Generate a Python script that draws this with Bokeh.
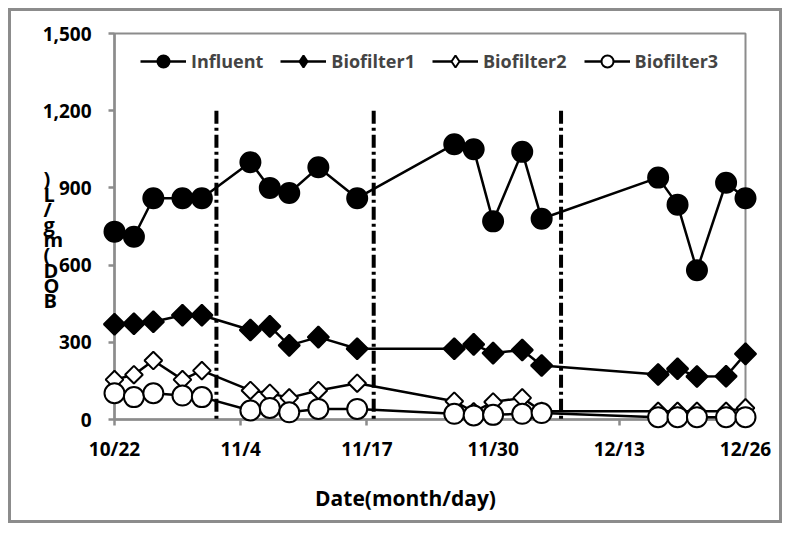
from datetime import date
from bokeh.plotting import figure
from bokeh.models import (Range1d, FixedTicker, NumeralTickFormatter, Legend,
                          LegendItem)
from bokeh.core.properties import value
from bokeh.embed import file_html
from bokeh.resources import INLINE
import math

# ---------------- data ----------------
dates = ["10/22", "10/24", "10/26", "10/29", "10/31", "11/5", "11/7", "11/9",
         "11/12", "11/16", "11/26", "11/28", "11/30", "12/3", "12/5", "12/17",
         "12/19", "12/21", "12/24", "12/26"]
influent = [730, 710, 860, 860, 860, 1000, 900, 880, 980, 860,
            1070, 1050, 770, 1040, 780, 940, 835, 580, 920, 860]
biofilter1 = [370, 372, 380, 405, 405, 348, 362, 288, 320, 275,
              275, 292, 258, 270, 210, 175, 197, 167, 168, 255]
biofilter2 = [155, 174, 229, 155, 190, 113, 102, 84, 113, 141,
              71, 30, 68, 84, 32, 32, 32, 32, 32, 45]
biofilter3 = [102, 87, 102, 93, 87, 35, 45, 28, 41, 41,
              22, 16, 18, 22, 25, 9, 9, 9, 9, 9]
series_names = ["Influent", "Biofilter1", "Biofilter2", "Biofilter3"]
x_tick_labels = ["10/22", "11/4", "11/17", "11/30", "12/13", "12/26"]
y_ticks = [0, 300, 600, 900, 1200, 1500]
phase_breaks = [10.5, 26.7, 46.0]   # days after 10/22
y_title_chars = list("BOD(mg/L)")
x_title = "Date(month/day)"

START = date(2001, 10, 22)


def to_day(s):
    m, d = map(int, s.split("/"))
    return (date(2001, m, d) - START).days


x = [to_day(d) for d in dates]
FONT = "Open Sans"
GRAY = "#8c8c8c"

p = figure(width=774, height=515, x_range=Range1d(0, 65), y_range=Range1d(0, 1500),
           output_backend="svg", toolbar_location=None,
           min_border_left=103, min_border_right=40, min_border_top=22,
           min_border_bottom=107)
p.styles = {"border": "3px solid " + GRAY, "margin": "8px"}
p.xgrid.visible = False
p.ygrid.visible = False
p.outline_line_color = GRAY
p.outline_line_width = 2
p.background_fill_color = "white"
p.border_fill_color = "white"

for ax in (p.xaxis[0], p.yaxis[0]):
    ax.axis_line_color = GRAY
    ax.axis_line_width = 2.5
    ax.major_tick_line_color = GRAY
    ax.major_tick_line_width = 2.5
    ax.major_tick_out = 6
    ax.major_tick_in = 0
    ax.minor_tick_out = 0
    ax.minor_tick_in = 0
    ax.major_label_text_font = FONT
    ax.major_label_text_font_style = "bold"
    ax.major_label_text_font_size = "19px"
    ax.major_label_text_color = "black"

xt = [to_day(t) for t in x_tick_labels]
p.xaxis[0].ticker = FixedTicker(ticks=xt)
p.xaxis[0].major_label_overrides = {v: t for v, t in zip(xt, x_tick_labels)}
p.xaxis[0].major_label_standoff = 10
p.yaxis[0].ticker = FixedTicker(ticks=y_ticks)
p.yaxis[0].formatter = NumeralTickFormatter(format="0,0")
p.yaxis[0].major_label_standoff = 17

styles = [
    (influent, "circle", 20, 0.0, "black", "circle"),
    (biofilter1, "square", 15, math.pi / 4, "black", "diamond"),
    (biofilter2, "square", 12.5, math.pi / 4, "white", "diamond"),
    (biofilter3, "circle", 20, 0.0, "white", "circle"),
]
items = []
for name, (vals, marker, size, ang, fill, leg_marker) in zip(series_names, styles):
    rl = p.line(x, vals, line_color="black", line_width=2.5, level="overlay")
    rs = p.scatter(x, vals, marker=marker, size=size, angle=ang,
                   fill_color=fill, line_color="black", line_width=2,
                   level="overlay")
    if leg_marker == marker:
        items.append(LegendItem(label=name, renderers=[rl, rs]))
    else:
        # legend-only proxy (legend glyphs are never rotated)
        proxy = p.scatter([float("nan")], [float("nan")], marker=leg_marker,
                          size=size, fill_color=fill, line_color="black",
                          line_width=2)
        items.append(LegendItem(label=name, renderers=[rl, proxy]))

p.segment(x0=phase_breaks, y0=[1200] * len(phase_breaks), x1=phase_breaks,
          y1=[0] * len(phase_breaks), line_color="black", line_width=4,
          line_dash="13 4 3 4", level="overlay")

legend = Legend(items=items, orientation="horizontal", location=(26, 343),
                padding=0, margin=0, spacing=17, label_standoff=5,
                glyph_width=46, glyph_height=30,
                label_text_font=FONT, label_text_font_style="bold",
                label_text_font_size="18px", border_line_alpha=0,
                background_fill_alpha=0)
p.add_layout(legend)


# page-pixel -> data helpers (frame spans x 114..745, y 33..419 on the page)
def px_to_x(px):
    return (px - 114) * 65 / 631


def py_to_y(py):
    return (419 - py) * 1500 / 386


# stacked y-axis title characters
p.text(x=[px_to_x(43)] * len(y_title_chars),
       y=[py_to_y(300 - 15.2 * i) for i in range(len(y_title_chars))],
       text=y_title_chars, text_font=value(FONT), text_font_style="bold",
       text_font_size="20px", text_align="left", text_baseline="alphabetic",
       text_color="black", level="overlay")

p.text(x=[px_to_x(405)], y=[py_to_y(497)], text=[x_title],
       text_font=value(FONT), text_font_style="bold", text_font_size="21px",
       text_align="center", text_baseline="middle", text_color="black",
       level="overlay")

open("out.html", "w").write(file_html(p, INLINE))
